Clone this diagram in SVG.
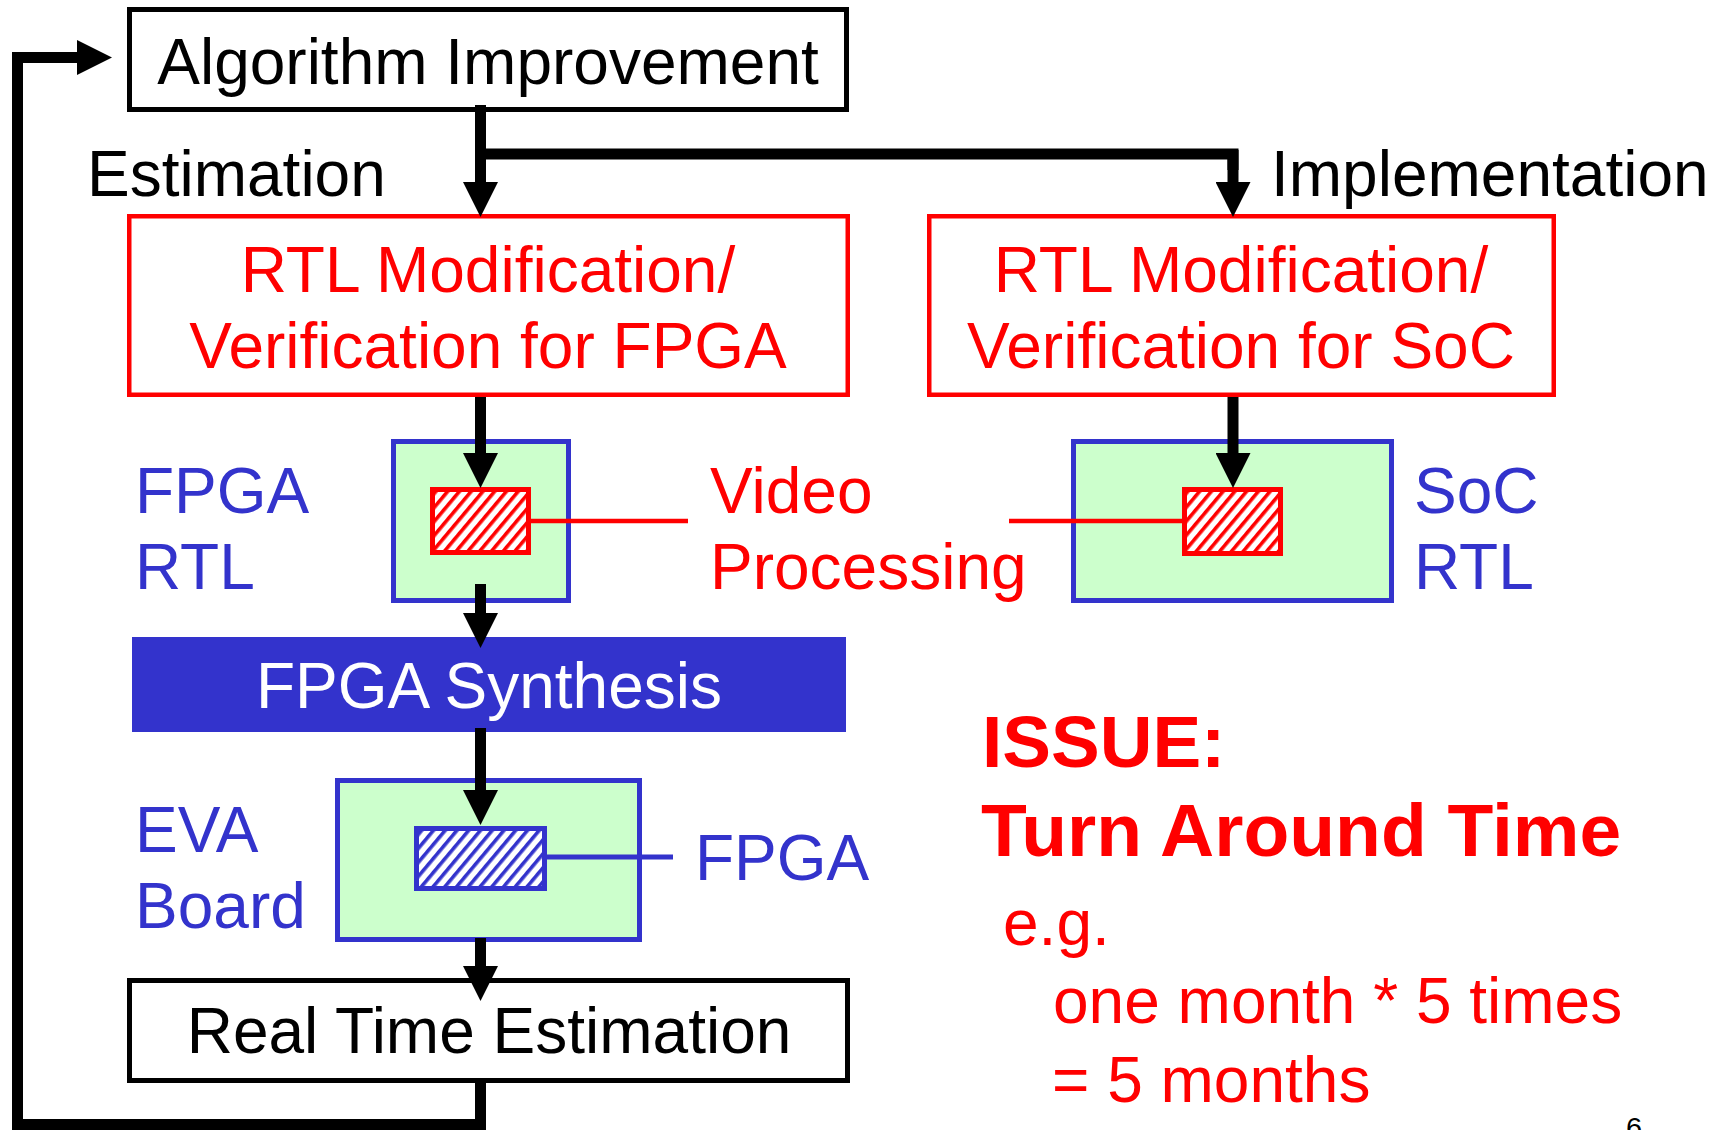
<svg xmlns="http://www.w3.org/2000/svg" width="1720" height="1130" viewBox="0 0 1720 1130">
  <style>
    text { font-family: "Liberation Sans", Arial, sans-serif; font-size: 64px; }
    .k { fill: #000000; }
    .r { fill: #FF0000; }
    .b { fill: #3333CC; }
    .w { fill: #FFFFFF; }
    .mid { text-anchor: middle; }
    .issue { font-weight: bold; font-size: 73px; }
    .issue2 { font-weight: bold; font-size: 75px; }
    .pageNo { font-size: 29px; }
    .boxK { fill: #FFFFFF; stroke: #000000; stroke-width: 5; }
    .boxR { fill: #FFFFFF; stroke: #FF0000; stroke-width: 4.5; }
    .board { fill: #CCFFCC; stroke: #3333CC; stroke-width: 5; }
    .chipR { fill: url(#hatchRed); stroke: #FF0000; stroke-width: 5; }
    .chipB { fill: url(#hatchBlue); stroke: #3333CC; stroke-width: 5; }
    .flow { fill: none; stroke: #000000; stroke-width: 11; stroke-linejoin: miter; }
    .flowArrow { fill: none; stroke: #000000; stroke-width: 11; marker-end: url(#head); }
    .leadR { stroke: #FF0000; stroke-width: 4.5; }
    .leadB { stroke: #3333CC; stroke-width: 5; }
  </style>
  <defs>
    <marker id="head" markerUnits="userSpaceOnUse" viewBox="0 0 35 35" markerWidth="35" markerHeight="35" refX="0" refY="17.5" orient="auto">
      <path d="M0,0 L35,17.5 L0,35 Z" fill="#000000"/>
    </marker>
    <pattern id="hatchRed" patternUnits="userSpaceOnUse" width="9" height="9" patternTransform="rotate(40)">
      <rect x="0" y="0" width="9" height="9" fill="#FFFFFF"/>
      <rect x="0" y="0" width="3.6" height="9" fill="#FF0000"/>
    </pattern>
    <pattern id="hatchBlue" patternUnits="userSpaceOnUse" width="9" height="9" patternTransform="rotate(40)">
      <rect x="0" y="0" width="9" height="9" fill="#FFFFFF"/>
      <rect x="0" y="0" width="3.6" height="9" fill="#3333CC"/>
    </pattern>
  </defs>

  <rect x="0" y="0" width="1720" height="1130" fill="#FFFFFF"/>

  <g id="algorithm-improvement">
    <rect class="boxK" x="129.5" y="9.5" width="717" height="100"/>
    <text class="k mid" x="488" y="84">Algorithm Improvement</text>
  </g>

  <g id="label-estimation">
    <text class="k" x="87" y="196">Estimation</text>
  </g>
  <g id="label-implementation">
    <text class="k" x="1271" y="196">Implementation</text>
  </g>

  <g id="rtl-fpga">
    <rect class="boxR" x="129.25" y="216.25" width="718.5" height="178.5"/>
    <text class="r mid" x="488" y="292">RTL Modification/</text>
    <text class="r mid" x="488" y="368">Verification for FPGA</text>
  </g>

  <g id="rtl-soc">
    <rect class="boxR" x="929.25" y="216.25" width="624.5" height="178.5"/>
    <text class="r mid" x="1241" y="292">RTL Modification/</text>
    <text class="r mid" x="1241" y="368">Verification for SoC</text>
  </g>

  <g id="fpga-rtl">
    <rect class="board" x="393.5" y="441.5" width="175" height="159"/>
    <line class="leadR" x1="530" y1="521" x2="688" y2="521"/>
    <rect class="chipR" x="432.5" y="489.5" width="96" height="63"/>
    <text class="b" x="135" y="513">FPGA</text>
    <text class="b" x="135" y="589">RTL</text>
  </g>

  <g id="video-processing">
    <text class="r" x="710" y="513">Video</text>
    <text class="r" x="710" y="589">Processing</text>
  </g>

  <g id="soc-rtl">
    <rect class="board" x="1073.5" y="441.5" width="318" height="159"/>
    <line class="leadR" x1="1009" y1="521" x2="1184" y2="521"/>
    <rect class="chipR" x="1184.5" y="489.5" width="96" height="64"/>
    <text class="b" x="1414" y="513">SoC</text>
    <text class="b" x="1414" y="589">RTL</text>
  </g>

  <g id="fpga-synthesis">
    <rect x="132" y="637" width="714" height="95" fill="#3333CC"/>
    <text class="w mid" x="489" y="708">FPGA Synthesis</text>
  </g>

  <g id="eva-board">
    <rect class="board" x="337.5" y="780.5" width="302" height="159"/>
    <line class="leadB" x1="545" y1="857" x2="673" y2="857"/>
    <rect class="chipB" x="416.5" y="828.5" width="128" height="60"/>
    <text class="b" x="135" y="852">EVA</text>
    <text class="b" x="135" y="928">Board</text>
    <text class="b" x="695" y="880">FPGA</text>
  </g>

  <g id="real-time-estimation">
    <rect class="boxK" x="129.5" y="980.5" width="718" height="100"/>
    <text class="k mid" x="489" y="1053">Real Time Estimation</text>
  </g>

  <g id="issue">
    <text class="r issue" x="982" y="767">ISSUE:</text>
    <text class="r issue2" x="981" y="856">Turn Around Time</text>
    <text class="r" x="1003" y="945">e.g.</text>
    <text class="r" x="1053" y="1023">one month * 5 times</text>
    <text class="r" x="1052" y="1102">= 5 months</text>
  </g>

  <g id="page-number">
    <text class="k pageNo" x="1626" y="1138">6</text>
  </g>

  <!-- connectors, drawn last so the heads sit on top of the boxes -->
  <g id="connectors">
    <!-- feedback loop back to the top -->
    <path class="flow" d="M480.5,1083 V1124.5 H17.5 V57.5 H78"/>
    <path d="M77,40 L112,57.5 L77,75 Z" fill="#000000"/>
    <!-- estimation branch -->
    <path class="flowArrow" d="M480.5,105 V182"/>
    <!-- implementation branch -->
    <path class="flow" d="M480.5,154 H1233 V170"/>
    <path class="flowArrow" d="M1233,150 V182"/>
    <!-- RTL boxes into their video processing blocks -->
    <path class="flowArrow" d="M480.5,397 V453"/>
    <path class="flowArrow" d="M1233,397 V453"/>
    <!-- FPGA RTL to synthesis -->
    <path class="flowArrow" d="M480.5,584 V613"/>
    <!-- synthesis to EVA board FPGA -->
    <path class="flowArrow" d="M480.5,728 V790"/>
    <!-- EVA board to real time estimation -->
    <path class="flowArrow" d="M480.5,938 V966"/>
  </g>
</svg>
